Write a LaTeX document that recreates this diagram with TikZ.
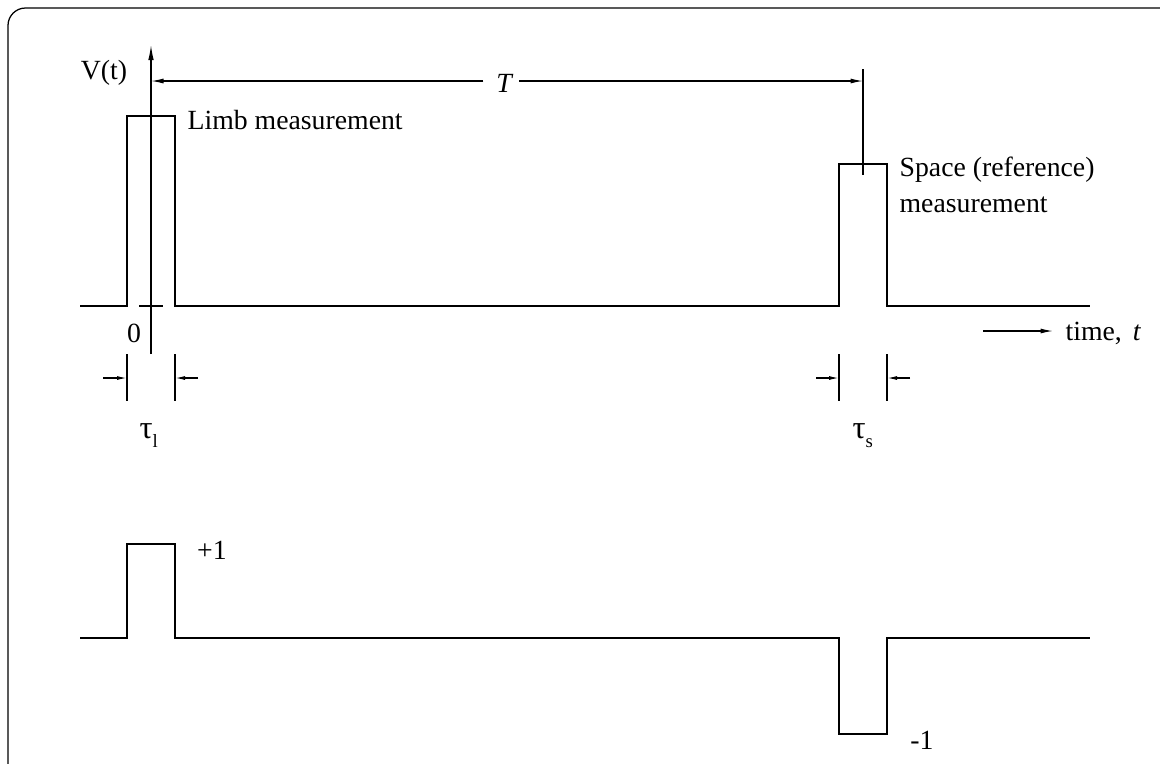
\documentclass[tikz,border=0pt]{standalone}
\usepackage{fontspec}
\setmainfont{Liberation Serif}
\usetikzlibrary{arrows.meta}
\newcommand{\lowsub}[1]{\raisebox{-3.6pt}{\fontsize{7.5}{7.5}\selectfont #1}}

\begin{document}
\begin{tikzpicture}[x=0.4pt,y=-0.4pt,line width=0.5pt,
   every node/.style={font=\fontsize{11.1}{14.4}\selectfont,inner sep=0pt},
   tip/.style={-{Latex[length=5pt,width=2pt]}},
   dimtip/.style={-{Latex[length=4pt,width=1.6pt]}}]
   \useasboundingbox (0,0) rectangle (1160,763);
   \draw[rounded corners=7pt] (8,8) rectangle (1190,795);
   % labels
   \node (vt) at (104,73) {V(t)};
   \node[anchor=base west] (limb) at (187,129) {Limb measurement};
   \node[anchor=base west,align=left] (space) at (899,212) {Space (reference)\\measurement};
   \node (zero) at (134,333) {0};
   \node[anchor=base west] (time) at (1065,340) {time,\hspace{4.4pt}\textit{t}};
   \node (T) at (505,83) {\textit{T}};
   \node[anchor=base west] (taul) at (139,438) {{\fontsize{13}{13}\selectfont τ}\lowsub{l}};
   \node[anchor=base west] (taus) at (852,438) {{\fontsize{13}{13}\selectfont τ}\lowsub{s}};
   \node (plus) at (212,550) {+1};
   \node (minus) at (922,740) {-1};
   % axis and period
   \coordinate (Tl) at (151,81);
   \coordinate (Tr) at (863,81);
   \draw[-{Latex[length=6pt,width=2.2pt]}] (151,354) -- (151,45);
   \draw (139,306) -- (163,306);
   \draw[tip] ([xshift=-5pt]T.west |- Tl) -- (Tl);
   \draw[tip] ([xshift=2pt]T.east |- Tr) -- (Tr);
   \draw (863,69) -- (863,175);
   \coordinate (tstart) at (983,331);
   \draw[tip] (tstart) -- ([xshift=-4.8pt]tstart -| time.west);
   % measured signal
   \draw (80,306) -- (127,306) -- (127,116) -- (175,116) -- (175,306)
      -- (839,306) -- (839,164) -- (887,164) -- (887,306) -- (1090,306);
   \foreach \x in {127,175,839,887}
      \draw (\x,354) -- (\x,401);
   \draw[dimtip] (103,378) -- (127,378);
   \draw[dimtip] (198,378) -- (175,378);
   \draw[dimtip] (816,378) -- (839,378);
   \draw[dimtip] (910,378) -- (887,378);
   % weighting
   \draw (80,638) -- (127,638) -- (127,544) -- (175,544) -- (175,638)
      -- (839,638) -- (839,734) -- (887,734) -- (887,638) -- (1090,638);
\end{tikzpicture}
\end{document}
